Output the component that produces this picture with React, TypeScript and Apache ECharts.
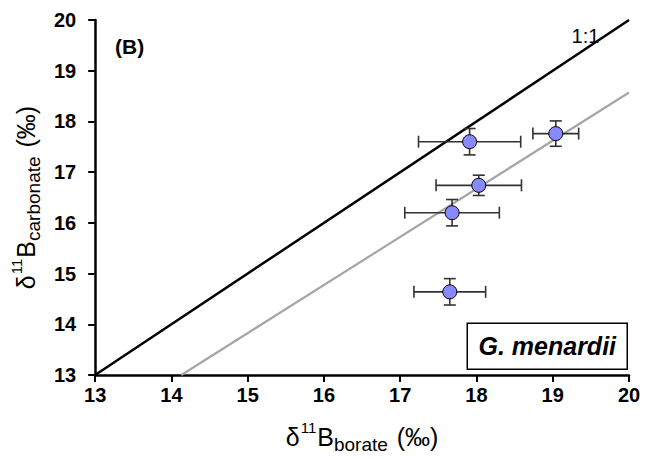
import React, { useEffect, useRef } from "react";
import * as echarts from "echarts";

const borate = [17.91, 19.04, 18.03, 17.68, 17.65];
const carbonate = [17.6, 17.76, 16.74, 16.2, 14.64];
const borateErr = [0.67, 0.3, 0.56, 0.62, 0.47];
const carbonateErr = [0.26, 0.25, 0.2, 0.26, 0.26];
const oneToOneLine = [[13, 13], [20, 20]];
const fitLine = [[14.13, 13], [20, 18.57]];
const oneToOneLabelAt = [19.43, 19.69];
const axisMin = 13;
const axisMax = 20;
const axisStep = 1;
const panelLabel = "(B)";
const speciesLabel = "G. menardii";

const FONT = "Liberation Sans, Arial, sans-serif";

export default function App() {
  const ref = useRef<HTMLDivElement>(null);
  useEffect(() => {
    document.body.style.margin = "0";
    const chart = echarts.init(ref.current!, null, { renderer: "svg" });
    const errData = borate.map((x, i) => [x, carbonate[i], borateErr[i], carbonateErr[i]]);
    const titleRich = {
      d: { fontSize: 25, fontFamily: FONT, color: "#000", lineHeight: 30, verticalAlign: "bottom" },
      sup: { fontSize: 15, fontFamily: FONT, color: "#000", lineHeight: 30, verticalAlign: "top", padding: [1, 1, 0, 1] },
      sub: { fontSize: 19, fontFamily: FONT, color: "#000", lineHeight: 19, verticalAlign: "bottom", padding: [0, 2, -5, 0] },
    };
    const axisCommon = {
      type: "value",
      min: axisMin,
      max: axisMax,
      interval: axisStep,
      splitLine: { show: false },
      axisLine: { show: true, onZero: false, lineStyle: { color: "#000", width: 2.5 } },
      axisTick: { show: true, inside: false, length: 7, lineStyle: { color: "#000", width: 2 } },
      axisLabel: { fontSize: 20, fontWeight: "bold", fontFamily: FONT, color: "#000" },
    };
    chart.setOption({
      animation: false,
      backgroundColor: "#fff",
      grid: { left: 93, right: 31, top: 20, bottom: 82, containLabel: false },
      xAxis: {
        ...axisCommon,
        axisLabel: { ...axisCommon.axisLabel, margin: 10 },
        name: "{d|δ}{sup|11}{d|B}{sub|borate}{d| (‰)}",
        nameLocation: "middle",
        nameGap: 44,
        nameTextStyle: { rich: titleRich },
      },
      yAxis: {
        ...axisCommon,
        axisLabel: { ...axisCommon.axisLabel, margin: 19 },
        name: "{d|δ}{sup|11}{d|B}{sub|carbonate}{d| (‰)}",
        nameLocation: "middle",
        nameRotate: 90,
        nameGap: 54,
        nameTextStyle: { rich: titleRich },
      },
      series: [
        {
          type: "line",
          data: oneToOneLine,
          symbol: "none",
          lineStyle: { color: "#000", width: 2.5 },
          z: 2,
        },
        {
          type: "line",
          data: fitLine,
          symbol: "none",
          lineStyle: { color: "#a6a6a6", width: 2.2 },
          z: 2,
        },
        {
          type: "scatter",
          data: [oneToOneLabelAt],
          symbolSize: 0,
          itemStyle: { opacity: 1 },
          label: {
            show: true,
            formatter: "1:1",
            position: "inside",
            fontSize: 20,
            fontFamily: FONT,
            color: "#000",
          },
          z: 3,
        },
        {
          type: "custom",
          data: errData,
          z: 4,
          renderItem: (params: any, api: any) => {
            const x = api.value(0);
            const y = api.value(1);
            const ex = api.value(2);
            const ey = api.value(3);
            const l = api.coord([x - ex, y]);
            const r = api.coord([x + ex, y]);
            const t = api.coord([x, y + ey]);
            const b = api.coord([x, y - ey]);
            const cap = 6;
            const style = { stroke: "#333", lineWidth: 1.6 };
            return {
              type: "group",
              children: [
                { type: "line", shape: { x1: l[0], y1: l[1], x2: r[0], y2: r[1] }, style },
                { type: "line", shape: { x1: l[0], y1: l[1] - cap, x2: l[0], y2: l[1] + cap }, style },
                { type: "line", shape: { x1: r[0], y1: r[1] - cap, x2: r[0], y2: r[1] + cap }, style },
                { type: "line", shape: { x1: t[0], y1: t[1], x2: b[0], y2: b[1] }, style },
                { type: "line", shape: { x1: t[0] - cap, y1: t[1], x2: t[0] + cap, y2: t[1] }, style },
                { type: "line", shape: { x1: b[0] - cap, y1: b[1], x2: b[0] + cap, y2: b[1] }, style },
              ],
            };
          },
        },
        {
          type: "scatter",
          data: borate.map((x, i) => [x, carbonate[i]]),
          symbol: "circle",
          symbolSize: 14,
          itemStyle: { color: "#8888ff", borderColor: "#000", borderWidth: 1, opacity: 1 },
          z: 5,
        },
      ],
      graphic: [
        {
          type: "text",
          left: 115,
          top: 36,
          style: { text: panelLabel, fontSize: 21, fontWeight: "bold", fontFamily: FONT, fill: "#000" },
        },
        {
          type: "group",
          right: 32,
          bottom: 89,
          children: [
            {
              type: "rect",
              shape: { x: 0, y: 0, width: 160, height: 46 },
              style: { fill: "#fff", stroke: "#000", lineWidth: 1.5 },
            },
            {
              type: "text",
              x: 80,
              y: 23,
              style: {
                text: speciesLabel,
                fontSize: 25,
                fontWeight: "bold",
                fontStyle: "italic",
                fontFamily: FONT,
                fill: "#000",
                align: "center",
                verticalAlign: "middle",
              },
            },
          ],
        },
      ],
    });
    return () => chart.dispose();
  }, []);
  return <div ref={ref} style={{ width: 660, height: 459 }} />;
}
